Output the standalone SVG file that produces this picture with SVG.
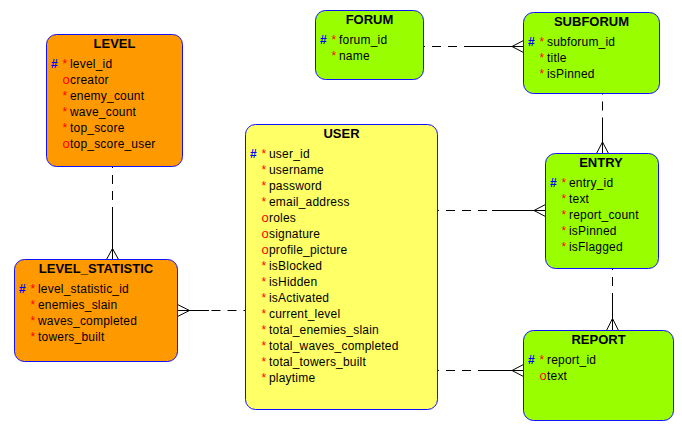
<svg xmlns="http://www.w3.org/2000/svg" width="682" height="435" viewBox="0 0 682 435">
<style>
  .box { stroke: #1010ff; stroke-width: 1; }
  .orange { fill: #ff9900; }
  .yellow { fill: #ffff66; }
  .green { fill: #99ff00; }
  text { font-family: "Liberation Sans", Arial, sans-serif; font-size: 12px; fill: #000; letter-spacing: 0.2px; }
  .title { font-weight: bold; font-size: 13px; text-anchor: middle; letter-spacing: 0; }
  .pk { fill: #0000ff; font-weight: bold; }
  .req { fill: #ff0000; }
  .opt { fill: #ff0000; font-size: 13px; letter-spacing: 0; }
  .dash { stroke: #000; stroke-width: 1; fill: none; stroke-dasharray: 9 7; stroke-dashoffset: 7.5; }
  .solid { stroke: #000; stroke-width: 1; fill: none; }
</style>
<rect width="682" height="435" fill="#ffffff"/>

<g id="connectors">
  <!-- LEVEL - LEVEL_STATISTIC -->
  <path class="dash" d="M112.5,166.5 V207"/>
  <path class="solid" d="M112.5,207 V259.5 M112.5,248.5 L106.5,259.5 M112.5,248.5 L118.5,259.5"/>
  <!-- USER - LEVEL_STATISTIC -->
  <path class="dash" d="M245,310.5 H209"/>
  <path class="solid" d="M209,310.5 H177.5 M189.5,310.5 L177.5,304.5 M189.5,310.5 L177.5,316.5"/>
  <!-- FORUM - SUBFORUM -->
  <path class="dash" d="M423.5,46.5 H473"/>
  <path class="solid" d="M473,46.5 H523.5 M512,46.5 L523.5,40.5 M512,46.5 L523.5,52.5"/>
  <!-- SUBFORUM - ENTRY -->
  <path class="dash" d="M602.5,93 V119"/>
  <path class="solid" d="M602.5,119 V153.5 M602.5,142 L596.5,153.5 M602.5,142 L608.5,153.5"/>
  <!-- USER - ENTRY -->
  <path class="dash" d="M437.5,210.5 H492"/>
  <path class="solid" d="M492,210.5 H545.5 M534,210.5 L545.5,204.5 M534,210.5 L545.5,216.5"/>
  <!-- ENTRY - REPORT -->
  <path class="dash" d="M612.5,268.5 V294"/>
  <path class="solid" d="M612.5,294 V330.5 M612.5,318.5 L606.5,330.5 M612.5,318.5 L618.5,330.5"/>
  <!-- USER - REPORT -->
  <path class="dash" d="M437.5,370.5 H478"/>
  <path class="solid" d="M478,370.5 H523.5 M512,370.5 L523.5,364.5 M512,370.5 L523.5,376.5"/>
</g>

<g id="LEVEL">
  <rect class="box orange" x="46.5" y="34.5" width="136" height="132" rx="10"/>
  <text class="title" x="114.5" y="48">LEVEL</text>
  <text class="pk" x="51" y="68">#</text><text class="req" x="62.5" y="68">*</text><text x="70" y="68">level_id</text>
  <text class="opt" x="62.5" y="84">o</text><text x="70" y="84">creator</text>
  <text class="req" x="62.5" y="100">*</text><text x="70" y="100">enemy_count</text>
  <text class="req" x="62.5" y="116">*</text><text x="70" y="116">wave_count</text>
  <text class="req" x="62.5" y="132">*</text><text x="70" y="132">top_score</text>
  <text class="opt" x="62.5" y="148">o</text><text x="70" y="148">top_score_user</text>
</g>

<g id="LEVEL_STATISTIC">
  <rect class="box orange" x="14.5" y="259.5" width="163" height="102" rx="10"/>
  <text class="title" x="96" y="273">LEVEL_STATISTIC</text>
  <text class="pk" x="19" y="293">#</text><text class="req" x="30.5" y="293">*</text><text x="38" y="293">level_statistic_id</text>
  <text class="req" x="30.5" y="309">*</text><text x="38" y="309">enemies_slain</text>
  <text class="req" x="30.5" y="325">*</text><text x="38" y="325">waves_completed</text>
  <text class="req" x="30.5" y="341">*</text><text x="38" y="341">towers_built</text>
</g>

<g id="USER">
  <rect class="box yellow" x="245.5" y="124.5" width="192" height="285" rx="10"/>
  <text class="title" x="341.5" y="138">USER</text>
  <text class="pk" x="250" y="158">#</text><text class="req" x="261.5" y="158">*</text><text x="269" y="158">user_id</text>
  <text class="req" x="261.5" y="174">*</text><text x="269" y="174">username</text>
  <text class="req" x="261.5" y="190">*</text><text x="269" y="190">password</text>
  <text class="req" x="261.5" y="206">*</text><text x="269" y="206">email_address</text>
  <text class="opt" x="261.5" y="222">o</text><text x="269" y="222">roles</text>
  <text class="opt" x="261.5" y="238">o</text><text x="269" y="238">signature</text>
  <text class="opt" x="261.5" y="254">o</text><text x="269" y="254">profile_picture</text>
  <text class="req" x="261.5" y="270">*</text><text x="269" y="270">isBlocked</text>
  <text class="req" x="261.5" y="286">*</text><text x="269" y="286">isHidden</text>
  <text class="req" x="261.5" y="302">*</text><text x="269" y="302">isActivated</text>
  <text class="req" x="261.5" y="318">*</text><text x="269" y="318">current_level</text>
  <text class="req" x="261.5" y="334">*</text><text x="269" y="334">total_enemies_slain</text>
  <text class="req" x="261.5" y="350">*</text><text x="269" y="350">total_waves_completed</text>
  <text class="req" x="261.5" y="366">*</text><text x="269" y="366">total_towers_built</text>
  <text class="req" x="261.5" y="382">*</text><text x="269" y="382">playtime</text>
</g>

<g id="FORUM">
  <rect class="box green" x="315.5" y="10.5" width="108" height="69" rx="10"/>
  <text class="title" x="369.5" y="24">FORUM</text>
  <text class="pk" x="320" y="44">#</text><text class="req" x="331.5" y="44">*</text><text x="339" y="44">forum_id</text>
  <text class="req" x="331.5" y="60">*</text><text x="339" y="60">name</text>
</g>

<g id="SUBFORUM">
  <rect class="box green" x="523.5" y="12.5" width="136" height="81" rx="10"/>
  <text class="title" x="591.5" y="26">SUBFORUM</text>
  <text class="pk" x="528" y="46">#</text><text class="req" x="539.5" y="46">*</text><text x="547" y="46">subforum_id</text>
  <text class="req" x="539.5" y="62">*</text><text x="547" y="62">title</text>
  <text class="req" x="539.5" y="78">*</text><text x="547" y="78">isPinned</text>
</g>

<g id="ENTRY">
  <rect class="box green" x="545.5" y="153.5" width="113" height="115" rx="10"/>
  <text class="title" x="601" y="167">ENTRY</text>
  <text class="pk" x="550" y="187">#</text><text class="req" x="561.5" y="187">*</text><text x="569" y="187">entry_id</text>
  <text class="req" x="561.5" y="203">*</text><text x="569" y="203">text</text>
  <text class="req" x="561.5" y="219">*</text><text x="569" y="219">report_count</text>
  <text class="req" x="561.5" y="235">*</text><text x="569" y="235">isPinned</text>
  <text class="req" x="561.5" y="251">*</text><text x="569" y="251">isFlagged</text>
</g>

<g id="REPORT">
  <rect class="box green" x="523.5" y="330.5" width="150" height="90" rx="10"/>
  <text class="title" x="598.5" y="344">REPORT</text>
  <text class="pk" x="528" y="364">#</text><text class="req" x="539.5" y="364">*</text><text x="547" y="364">report_id</text>
  <text class="opt" x="539.5" y="380">o</text><text x="547" y="380">text</text>
</g>
</svg>
